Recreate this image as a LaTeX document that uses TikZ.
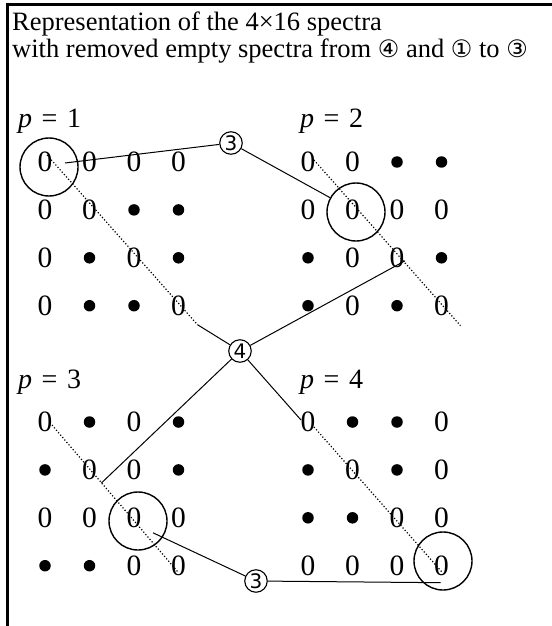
\documentclass[tikz,border=0pt]{standalone}
\usepackage{fontspec}
\setmainfont{Liberation Serif}
\newfontfamily\symf{DejaVu Sans}
\usetikzlibrary{calc}
\newcommand\placegrid[4]{%
  \foreach \row [count=\ri] in {#4} {
    \foreach \e [count=\ci] in \row {
      \pgfmathsetmacro\xx{#2+(\ci-1)*44.5}
      \pgfmathsetmacro\yy{#3+(\ri-1)*47.9}
      \if\e0 \node[zero] (#1-\ri-\ci) at (\xx,\yy) {0};
      \else \node[dotn] (#1-\ri-\ci) at (\xx,\yy) {}; \fi
    }
  }
}
\newcommand\circd[1]{{\symf\fontsize{24bp}{24bp}\selectfont #1}}
\begin{document}
\begin{tikzpicture}[x=1bp,y=-1bp,
  zero/.style={font=\fontsize{29.5bp}{30bp}\selectfont, inner sep=0},
  dotn/.style={circle, fill=black, minimum size=11.5bp, inner sep=0},
  plab/.style={anchor=base west, inner sep=0, font=\fontsize{28bp}{30bp}\selectfont},
  ttl/.style={anchor=base west, inner sep=0, font=\fontsize{26.5bp}{30bp}\selectfont},
  small/.style={circle, draw, line width=1.1bp, minimum size=22.5bp, inner sep=0, font=\symf\fontsize{20bp}{20bp}\selectfont},
  bigc/.style={circle, draw, line width=1.4bp, minimum size=58bp, inner sep=0},
  conn/.style={line width=1bp},
  dotl/.style={line width=1.2bp, dotted},
  frame/.style={line width=2.5bp}]
\useasboundingbox (0,0) rectangle (552,626);
\draw[frame] (7.5,626) -- (7.5,4.5) -- (552,4.5);
\node[ttl] (t1) at (12,31) {Representation of the 4×16 spectra};
\node[ttl] (t2) at (12,58) {with removed empty spectra from \circd{④} and \circd{①} to \circd{③}};
\node[plab] (l1) at (18,128) {\textit{p}\hspace{0.34em}=\hspace{0.34em}1};
\node[plab] (l2) at (300,128) {\textit{p}\hspace{0.34em}=\hspace{0.34em}2};
\node[plab] (l3) at (18,388) {\textit{p}\hspace{0.34em}=\hspace{0.34em}3};
\node[plab] (l4) at (300,388) {\textit{p}\hspace{0.34em}=\hspace{0.34em}4};
\placegrid{p1}{45}{162}{{0,0,0,0},{0,0,d,d},{0,d,0,d},{0,d,d,0}}
\placegrid{p2}{308}{162}{{0,0,d,d},{0,0,0,0},{d,0,0,d},{d,0,d,0}}
\placegrid{p3}{45}{422}{{0,d,0,d},{d,0,0,d},{0,0,0,0},{d,d,0,0}}
\placegrid{p4}{308}{422}{{0,d,d,0},{d,0,d,0},{d,d,0,0},{0,0,0,0}}
\node[bigc] (c1) at (49,167) {};
\node[bigc] (c2) at (356,212) {};
\node[bigc] (c3) at (138,521) {};
\node[bigc] (c4) at (443,561) {};
\node[small] (s3a) at (231,143) {3};
\node[small] (s4) at (240,351) {4};
\node[small] (s3b) at (256,581) {3};
\coordinate (a1) at ($(p1-1-1.center)+(20,1)$);
\coordinate (d1s) at ($(p1-1-1.center)+(2,-7)$);
\coordinate (d1e) at ($(p1-4-4.center)+(19,19)$);
\coordinate (d2s) at ($(p2-1-1.center)+(6,-2)$);
\coordinate (d2e) at ($(p2-4-4.center)+(19,20)$);
\coordinate (d3s) at ($(p3-1-1.center)+(7,3)$);
\coordinate (d3e) at ($(p3-4-4.center)+(0,7)$);
\coordinate (d4s) at ($(p4-1-1.center)+(6,5)$);
\coordinate (d4e) at ($(p4-4-4.center)+(1,7)$);
\coordinate (e2) at ($(p2-3-3.center)+(8,3)$);
\coordinate (e3) at ($(p3-2-2.center)+(12,13)$);
\coordinate (e4) at ($(p4-1-1.center)+(-7,-2)$);
\coordinate (a3) at ($(p3-3-3.center)+(19,15)$);
\coordinate (a4) at ($(p4-4-4.center)+(-1,17)$);
\draw[conn] (a1) -- (s3a);
\draw[conn] (s3a) -- (c2);
\draw[dotl] (d1s) -- (d1e);
\draw[conn] (d1e) -- (s4);
\draw[conn] (s4) -- (e2);
\draw[dotl] (d2s) -- (d2e);
\draw[conn] (s4) -- (e3);
\draw[dotl] (d3s) -- (d3e);
\draw[conn] (s4) -- (e4);
\draw[dotl] (d4s) -- (d4e);
\draw[conn] (a3) -- (s3b);
\draw[conn] (s3b) -- (a4);
\end{tikzpicture}
\end{document}
